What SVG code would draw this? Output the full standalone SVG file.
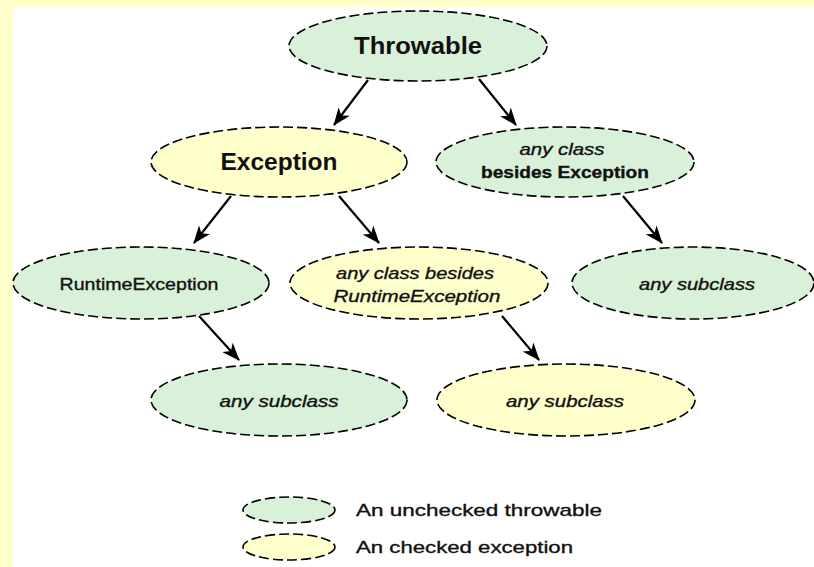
<svg xmlns="http://www.w3.org/2000/svg" width="814" height="567" viewBox="0 0 814 567">
<defs>
<style>
.node{stroke:#000;stroke-width:1.6;stroke-dasharray:10 4}
.g{fill:#d9f1d9}
.y{fill:#ffffcc}
.t{font-family:"Liberation Sans",Arial,sans-serif;fill:#111;text-anchor:middle}
.big{font-size:24px;font-weight:bold}
.lab{font-size:17px;stroke:#111;stroke-width:0.35}
.it{font-style:italic}
.leg{font-family:"Liberation Sans",Arial,sans-serif;font-size:17px;fill:#111;stroke:#111;stroke-width:0.35}
.conn line{stroke:#000;stroke-width:2.2;marker-end:url(#ah)}
</style>
<marker id="ah" viewBox="0 0 18 14" refX="17" refY="7" markerWidth="18" markerHeight="14" markerUnits="userSpaceOnUse" orient="auto">
<path d="M0,0 L18,7 L0,14 L5,7 Z" fill="#000"/>
</marker>
</defs>
<rect x="0" y="0" width="814" height="567" fill="#fff"/>
<rect x="0" y="0" width="814" height="7" fill="#ffffcc"/>
<rect x="0" y="0" width="13" height="567" fill="#ffffcc"/>

<g id="connectors" class="conn">
<line x1="368" y1="80" x2="334" y2="125"/>
<line x1="479" y1="79" x2="516" y2="125"/>
<line x1="231" y1="196" x2="194" y2="243"/>
<line x1="339" y1="196" x2="379" y2="243"/>
<line x1="623" y1="196" x2="662" y2="243"/>
<line x1="199" y1="316" x2="239" y2="360"/>
<line x1="502" y1="316" x2="539" y2="360"/>
</g>

<g id="throwable">
<ellipse class="node g" cx="418" cy="46" rx="129" ry="35"/>
<text class="t big" x="418" y="54" textLength="128" lengthAdjust="spacingAndGlyphs">Throwable</text>
</g>
<g id="exception">
<ellipse class="node y" cx="279" cy="162" rx="128" ry="35"/>
<text class="t big" x="279" y="170" textLength="117" lengthAdjust="spacingAndGlyphs">Exception</text>
</g>
<g id="anyclass">
<ellipse class="node g" cx="565" cy="162" rx="129" ry="35"/>
<text class="t lab it" x="562" y="155" textLength="85" lengthAdjust="spacingAndGlyphs">any class</text>
<text class="t lab" x="565" y="178" textLength="168" lengthAdjust="spacingAndGlyphs" font-weight="bold">besides Exception</text>
</g>
<g id="runtime">
<ellipse class="node g" cx="141" cy="283" rx="128" ry="36"/>
<text class="t lab" x="139" y="290" textLength="159" lengthAdjust="spacingAndGlyphs">RuntimeException</text>
</g>
<g id="anyclass2">
<ellipse class="node y" cx="419" cy="283" rx="129" ry="36"/>
<text class="t lab it" x="415" y="279" textLength="158" lengthAdjust="spacingAndGlyphs">any class besides</text>
<text class="t lab it" x="417" y="302" textLength="167" lengthAdjust="spacingAndGlyphs">RuntimeException</text>
</g>
<g id="subclass1">
<ellipse class="node g" cx="693" cy="283" rx="121" ry="36"/>
<text class="t lab it" x="697" y="290" textLength="116" lengthAdjust="spacingAndGlyphs">any subclass</text>
</g>
<g id="subclass2">
<ellipse class="node g" cx="279" cy="400" rx="128" ry="36"/>
<text class="t lab it" x="279" y="407" textLength="119" lengthAdjust="spacingAndGlyphs">any subclass</text>
</g>
<g id="subclass3">
<ellipse class="node y" cx="566" cy="400" rx="129" ry="36"/>
<text class="t lab it" x="565" y="407" textLength="118" lengthAdjust="spacingAndGlyphs">any subclass</text>
</g>

<g id="legend-unchecked">
<ellipse class="node g" cx="289" cy="510" rx="46" ry="13"/>
<text class="leg" x="356" y="516" textLength="246" lengthAdjust="spacingAndGlyphs">An unchecked throwable</text>
</g>
<g id="legend-checked">
<ellipse class="node y" cx="289" cy="547" rx="46" ry="13"/>
<text class="leg" x="356" y="553" textLength="217" lengthAdjust="spacingAndGlyphs">An checked exception</text>
</g>
</svg>
